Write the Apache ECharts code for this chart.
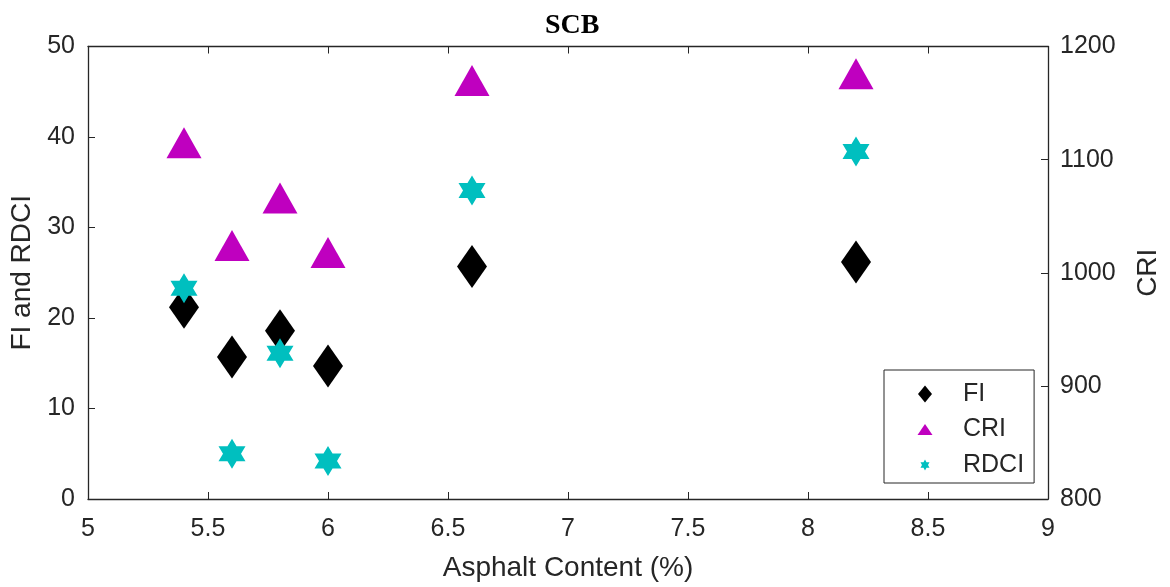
<!DOCTYPE html>
<html>
<head>
<meta charset="utf-8">
<title>SCB</title>
<script src="https://cdn.jsdelivr.net/npm/echarts@6/dist/echarts.min.js"></script>
<style>
  html, body { margin: 0; padding: 0; background: #ffffff; }
  #chart { width: 1170px; height: 587px; }
</style>
</head>
<body>
<div id="chart"></div>
<script>
// Asphalt content (%) of each mix
const asphaltContent = [5.4, 5.6, 5.8, 6.0, 6.6, 8.2];
// Flexibility index (left axis)
const fiValues = [21.2, 15.7, 18.6, 14.7, 25.7, 26.2];
// Cracking resistance index (right axis)
const criValues = [1115, 1024, 1066, 1018, 1170, 1176];
// Rutting / durability cracking index (left axis)
const rdciValues = [23.3, 5.0, 16.1, 4.2, 34.1, 38.4];

const seriesNames = ['FI', 'CRI', 'RDCI'];

const axisColor = '#262626';
const sansFont = '"Liberation Sans", Arial, Helvetica, sans-serif';

// six-pointed star (hexagram), point up, as an SVG path scaled to (sx, sy)
function hexagramPath(sx, sy) {
  const pts = [];
  for (let k = 0; k < 12; k++) {
    const th = k * Math.PI / 6;
    const r = (k % 2 === 0) ? 1 : 1 / Math.sqrt(3);
    pts.push([(r * Math.sin(th) * sx).toFixed(3), (-r * Math.cos(th) * sy).toFixed(3)]);
  }
  return 'M' + pts.map(p => p.join(',')).join(' L') + ' Z';
}
// fixed 20x20 frame so that legend icons keep their own sizes
const frame = 'M-10,-10 M10,10 ';
const legendIcons = {
  FI: 'path://' + frame + 'M0,-8.5 L7,0 L0,8.5 L-7,0 Z',
  CRI: 'path://' + frame + 'M0,-5.5 L7.5,5.5 L-7.5,5.5 Z',
  RDCI: 'path://' + frame + hexagramPath(5.2, 5.5)
};

function pairs(xs, ys) {
  return xs.map((x, i) => [x, ys[i]]);
}

const chart = echarts.init(document.getElementById('chart'), null, { renderer: 'canvas' });

chart.setOption({
  animation: false,
  backgroundColor: '#ffffff',
  title: {
    text: 'SCB',
    left: 540,
    top: 7,
    textStyle: {
      fontFamily: '"Liberation Serif", "Times New Roman", serif',
      fontWeight: 'bold',
      fontSize: 28,
      color: '#000000'
    }
  },
  grid: { left: 88, right: 118, top: 46.5, bottom: 87, containLabel: false },
  legend: {
    orient: 'vertical',
    left: 884,
    top: 370,
    padding: [11, 10, 5, 31],
    itemWidth: 66,
    itemHeight: 20,
    itemGap: 9.5,
    borderColor: axisColor,
    borderWidth: 1,
    backgroundColor: '#ffffff',
    borderRadius: 0,
    textStyle: {
      fontFamily: sansFont,
      fontSize: 25,
      lineHeight: 26,
      color: '#262626',
      padding: [0, 0, 0, 0]
    },
    data: seriesNames.map(n => ({ name: n, icon: legendIcons[n] }))
  },
  xAxis: [
    {
      type: 'value',
      position: 'bottom',
      min: 5,
      max: 9,
      interval: 0.5,
      name: 'Asphalt Content (%)',
      nameLocation: 'middle',
      nameGap: 55,
      nameTextStyle: { fontFamily: sansFont, fontSize: 28, color: '#262626' },
      axisLine: { show: true, onZero: false, lineStyle: { color: axisColor, width: 1.3 } },
      axisTick: { show: true, inside: true, length: 7, lineStyle: { color: axisColor, width: 1 } },
      axisLabel: { fontFamily: sansFont, fontSize: 25, color: '#262626', margin: 18 },
      splitLine: { show: false }
    },
    {
      type: 'value',
      position: 'top',
      min: 5,
      max: 9,
      interval: 0.5,
      axisLine: { show: true, onZero: false, lineStyle: { color: axisColor, width: 1.3 } },
      axisTick: { show: true, inside: true, length: 7, lineStyle: { color: axisColor, width: 1 } },
      axisLabel: { show: false },
      splitLine: { show: false }
    }
  ],
  yAxis: [
    {
      type: 'value',
      position: 'left',
      min: 0,
      max: 50,
      interval: 10,
      name: 'FI and RDCI',
      nameLocation: 'middle',
      nameGap: 49,
      nameTextStyle: { fontFamily: sansFont, fontSize: 28, color: '#262626' },
      axisLine: { show: true, onZero: false, lineStyle: { color: axisColor, width: 1.3 } },
      axisTick: { show: true, inside: true, length: 7, lineStyle: { color: axisColor, width: 1 } },
      axisLabel: { fontFamily: sansFont, fontSize: 25, color: '#262626', margin: 13 },
      splitLine: { show: false }
    },
    {
      type: 'value',
      position: 'right',
      min: 800,
      max: 1200,
      interval: 100,
      name: 'CRI',
      nameLocation: 'middle',
      nameGap: 86,
      nameRotate: 90,
      nameTextStyle: { fontFamily: sansFont, fontSize: 28, color: '#262626' },
      axisLine: { show: true, onZero: false, lineStyle: { color: axisColor, width: 1.3 } },
      axisTick: { show: true, inside: true, length: 7, lineStyle: { color: axisColor, width: 1 } },
      axisLabel: {
        fontFamily: sansFont, fontSize: 25, color: '#262626', margin: 12,
        formatter: v => String(v)
      },
      splitLine: { show: false }
    }
  ],
  series: [
    {
      name: 'FI',
      type: 'scatter',
      xAxisIndex: 0,
      yAxisIndex: 0,
      symbol: 'diamond',
      symbolSize: [30, 43],
      itemStyle: { color: '#000000', opacity: 1 },
      data: pairs(asphaltContent, fiValues),
      z: 3
    },
    {
      name: 'CRI',
      type: 'scatter',
      xAxisIndex: 0,
      yAxisIndex: 1,
      symbol: 'triangle',
      symbolSize: [35, 31],
      itemStyle: { color: '#BF00BF', opacity: 1 },
      data: pairs(asphaltContent, criValues),
      z: 4
    },
    {
      name: 'RDCI',
      type: 'scatter',
      xAxisIndex: 0,
      yAxisIndex: 0,
      symbol: 'path://' + hexagramPath(8.66, 10),
      symbolSize: [27, 30],
      itemStyle: { color: '#00BFBF', opacity: 1 },
      data: pairs(asphaltContent, rdciValues),
      z: 5
    }
  ]
});
</script>
</body>
</html>
